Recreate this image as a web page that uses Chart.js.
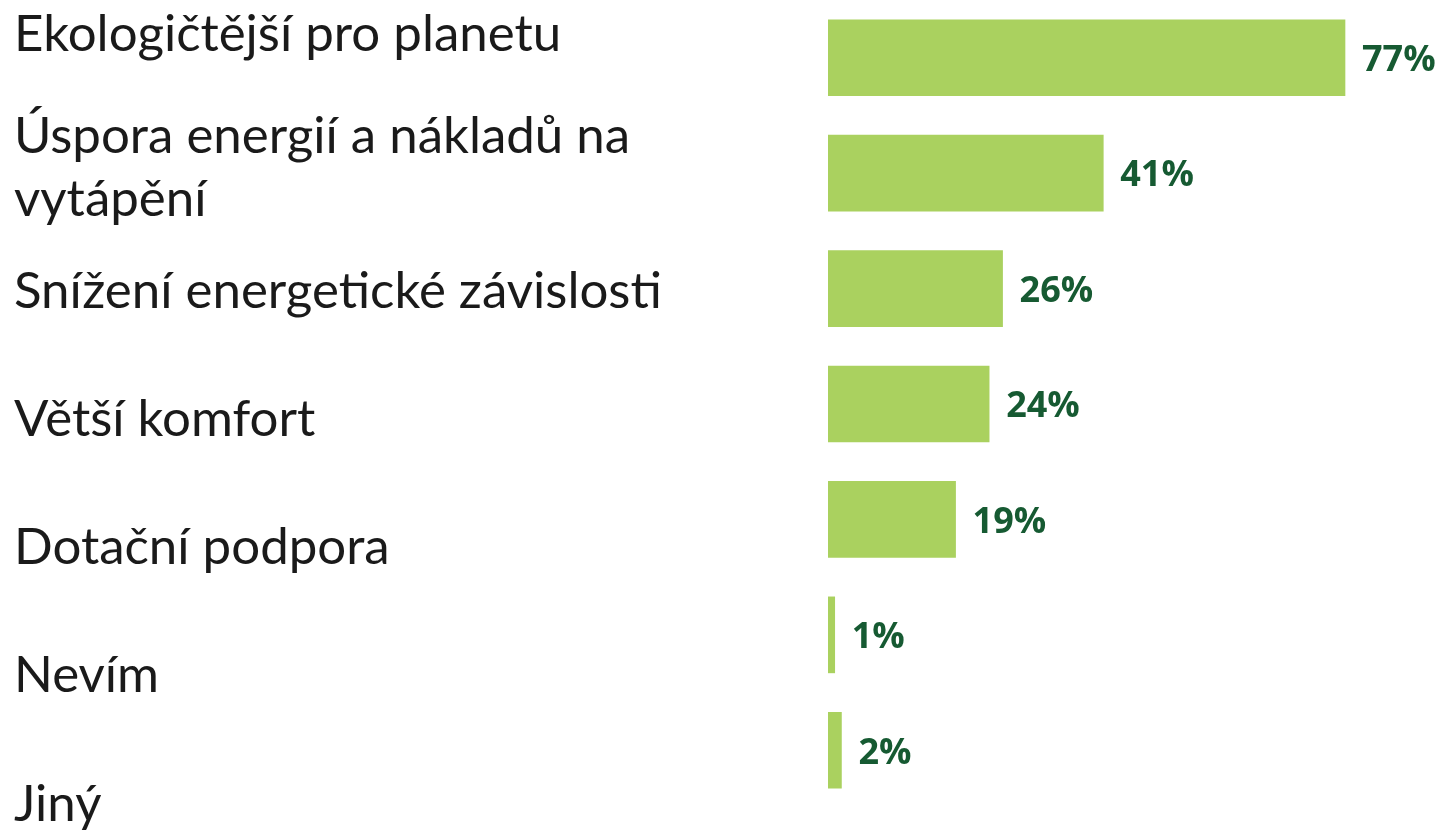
<!DOCTYPE html>
<html>
<head>
<meta charset="utf-8">
<script src="https://cdn.jsdelivr.net/npm/chart.js@4"></script>
<style>
   html, body { margin: 0; padding: 0; background: #ffffff; }
   #wrap { width: 1439px; height: 830px; }
</style>
</head>
<body>
<div id="wrap"><canvas id="chart" width="1439" height="830"></canvas></div>
<script>

// data
let categories = [
   ["Ekologičtější pro planetu"],
   ["Úspora energií a nákladů na", "vytápění"],
   ["Snížení energetické závislosti"],
   ["Větší komfort"],
   ["Dotační podpora"],
   ["Nevím"],
   ["Jiný"]
];

let values = [77, 41, 26, 24, 19, 1, 2];

let valueLabels = ["77%", "41%", "26%", "24%", "19%", "1%", "2%"];

let barColor = "#aad15f";
let valueColor = "#165a32";
let labelColor = "#1a1a1a";


/* popisky kategorii vlevo - posunute mimo sloupce jako v originale */

let categoryLabelPlugin = {

   id: "categoryLabels",

   afterDraw: function(chart){

      let ctx = chart.ctx;
      let yScale = chart.scales.y;

      let firstY = yScale.getPixelForValue(0) - 23;
      let step = (yScale.getPixelForValue(6) + 54 - firstY) / 6;

      ctx.save();
      ctx.fillStyle = labelColor;
      ctx.font = "51px Lato, 'Open Sans', sans-serif";
      ctx.textAlign = "left";
      ctx.textBaseline = "middle";

      categories.forEach(function(lines, i){

         let y = firstY + i * step;
         let n = lines.length;

         lines.forEach(function(line, j){

            let shift = n > 1 ? (j - (n - 1) / 2) * 63 + 5 : 0;

            ctx.fillText(line, 14, y + shift);

         });

      });

      ctx.restore();

   }

};


/* hodnoty za koncem sloupcu */

let valueLabelPlugin = {

   id: "valueLabels",

   afterDatasetsDraw: function(chart){

      let ctx = chart.ctx;
      let meta = chart.getDatasetMeta(0);

      ctx.save();
      ctx.fillStyle = valueColor;
      ctx.font = "bold 36px 'Open Sans', sans-serif";
      ctx.textAlign = "left";
      ctx.textBaseline = "middle";

      meta.data.forEach(function(bar, i){

         ctx.fillText(valueLabels[i], bar.x + 17, bar.y + 3);

      });

      ctx.restore();

   }

};


let ctx = document.getElementById("chart").getContext("2d");

new Chart(ctx, {

   type: "bar",

   data: {

      labels: categories,

      datasets: [{

         data: values,
         backgroundColor: barColor,
         borderWidth: 0,
         barThickness: 76

      }]

   },

   options: {

      indexAxis: "y",

      responsive: false,
      animation: false,

      layout: {
         padding: { left: 828, right: 0, top: 0, bottom: 22 }
      },

      plugins: {
         legend: { display: false },
         tooltip: { enabled: false }
      },

      scales: {

         x: {
            display: false,
            min: 0,
            max: 91
         },

         y: {
            display: false
         }

      }

   },

   plugins: [categoryLabelPlugin, valueLabelPlugin]

});

</script>
</body>
</html>
